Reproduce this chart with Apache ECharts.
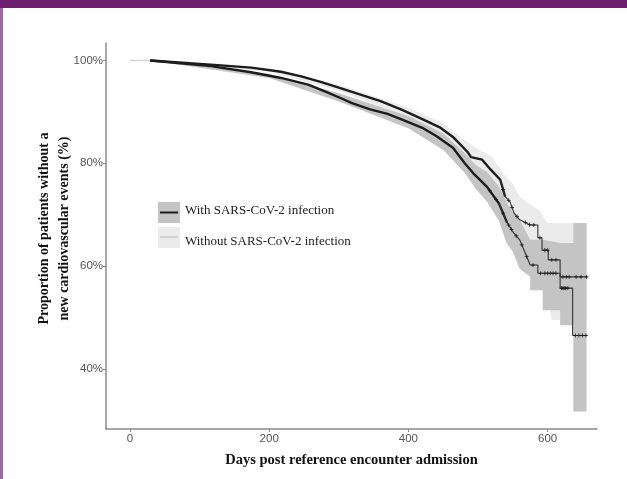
<!doctype html>
<html lang="en">
<head>
    <meta charset="utf-8">
    <title>Kaplan-Meier</title>
    <style>
        html, body { margin: 0; padding: 0; background: #fff; }
        #chart { width: 627px; height: 479px; }
    </style>
</head>
<body>
    <div id="chart"></div>
    <script src="https://cdn.jsdelivr.net/npm/echarts@6/dist/echarts.min.js"></script>
    <script>
        // Without SARS-CoV-2 infection (upper curve): days, survival %
        var withoutDays = [29, 116, 174, 217, 246, 275, 300, 330, 360, 391, 420, 445, 465, 485, 490, 506, 518, 532, 539, 546, 552, 560, 575, 586, 586, 592, 592, 601, 601, 618, 618, 657];
        var withoutSurv = [100, 99.2, 98.6, 97.8, 96.9, 95.8, 94.7, 93.4, 92.1, 90.4, 88.6, 87.0, 85.0, 82.2, 81.2, 80.7, 78.8, 76.8, 73.5, 72.5, 70.3, 69.0, 68.0, 68.0, 65.5, 65.5, 63.1, 63.1, 61.2, 61.2, 57.9, 57.9];
        // With SARS-CoV-2 infection (lower curve)
        var withDays = [29, 116, 174, 217, 256, 280, 304, 319, 345, 370, 391, 420, 440, 464, 481, 493, 513, 530, 542, 551, 560, 568, 575, 586, 586, 618, 618, 636, 636, 657];
        var withSurv = [100, 98.9, 97.7, 96.6, 95.3, 94.0, 92.6, 91.7, 90.5, 89.6, 88.5, 86.9, 85.3, 83.0, 80.0, 78.1, 75.4, 72.2, 68.4, 66.5, 65.1, 62.5, 60.2, 60.2, 58.6, 58.6, 55.7, 55.7, 46.5, 46.5];

        // confidence bands
        var withoutBandDays = [29, 200, 300, 400, 450, 480, 500, 520, 536, 550, 560, 575, 588, 600, 606, 656];
        var withoutBandLo = [100, 97.8, 94.1, 89.0, 85.4, 81.5, 79.2, 77.0, 71.8, 68.0, 65.5, 62.0, 59.0, 53.5, 49.5, 49.5];
        var withoutBandHi = [100, 98.4, 95.3, 90.8, 87.8, 84.6, 82.8, 81.2, 78.0, 76.0, 73.5, 72.0, 70.9, 68.4, 68.4, 68.4];

        var withBandDays = [29, 200, 300, 400, 450, 480, 497, 513, 530, 541, 550, 560, 575, 575, 593, 593, 618, 618, 637, 637, 656];
        var withBandLo = [100, 96.6, 92.0, 86.8, 82.6, 78.3, 75.0, 72.5, 68.8, 64.5, 62.8, 59.5, 57.9, 55.3, 55.3, 51.4, 51.4, 48.5, 48.5, 31.7, 31.7];
        var withBandHi = [100, 97.4, 93.6, 89.2, 85.8, 82.1, 79.6, 78.3, 75.5, 72.4, 70.5, 69.0, 65.1, 65.1, 65.1, 65.1, 64.5, 64.5, 64.5, 68.4, 68.4];

        // censoring marks (days)
        var withoutCensor = [536, 544, 549, 556, 568, 574, 580, 589, 596, 600, 606, 612, 622, 627, 631, 641, 648, 656];
        var withCensor = [517, 526, 536, 544, 548, 555, 563, 570, 579, 590, 596, 600, 604, 608, 612, 620, 622, 624, 626, 629, 640, 645, 650, 655];

        var leadDays = [0, 29];
        var xTicks = [0, 200, 400, 600];
        var yTicks = [40, 60, 80, 100];
        var tailFrom = 535; // curves are drawn thin after this day

        function pairs(xs, ys) {
            return xs.map(function (x, i) { return [x, ys[i]]; });
        }
        function split(xs, ys, early) {
            var out = [];
            for (var i = 0; i < xs.length; i++) {
                if (early ? xs[i] <= tailFrom || (i > 0 && xs[i - 1] <= tailFrom) : (xs[i] >= tailFrom || (i + 1 < xs.length && xs[i + 1] >= tailFrom))) {
                    out.push([xs[i], ys[i]]);
                }
            }
            return out;
        }
        function survAt(xs, ys, d) {
            for (var i = xs.length - 1; i >= 0; i--) {
                if (xs[i] <= d) {
                    if (i === xs.length - 1 || xs[i + 1] === xs[i]) return ys[i];
                    return ys[i] + (ys[i + 1] - ys[i]) * (d - xs[i]) / (xs[i + 1] - xs[i]);
                }
            }
            return ys[0];
        }
        function censorPts(xs, ys, cs) {
            return cs.map(function (d) { return [d, survAt(xs, ys, d)]; });
        }

        var chart = echarts.init(document.getElementById('chart'));
        var ink = '#1c1c1c';
        var plus = 'path://M2,0L2,4M0,2L4,2';

        // band drawn as one polygon: upper edge left->right, lower edge back
        function band(name, xs, lo, hi, color) {
            var data = xs.map(function (x, i) { return [x, lo[i], hi[i]]; });
            return {
                name: name, type: 'custom', silent: true, z: 1,
                encode: { x: 0, y: [1, 2] },
                data: data,
                renderItem: function (params, api) {
                    if (params.dataIndex !== 0) return null;
                    var pts = [];
                    for (var i = 0; i < data.length; i++) pts.push(api.coord([data[i][0], data[i][2]]));
                    for (var j = data.length - 1; j >= 0; j--) pts.push(api.coord([data[j][0], data[j][1]]));
                    return { type: 'polygon', shape: { points: pts }, style: { fill: color } };
                }
            };
        }

        function curve(name, xs, ys) {
            return [{
                name: name, type: 'line', data: split(xs, ys, true),
                symbol: 'none', z: 3, lineStyle: { color: ink, width: 2.4 }
            }, {
                name: name, type: 'line', data: split(xs, ys, false),
                symbol: 'none', z: 3, lineStyle: { color: '#333', width: 1.1 }
            }];
        }

        var series = [
            band('Without band', withoutBandDays, withoutBandLo, withoutBandHi, '#ebebeb'),
            band('With band', withBandDays, withBandLo, withBandHi, '#c4c4c4'),
            {
                type: 'line', data: pairs(leadDays, [100, 100]), symbol: 'none', z: 2,
                lineStyle: { color: '#d4d4d4', width: 1.5 }
            }
        ].concat(
            curve('Without SARS-CoV-2 infection', withoutDays, withoutSurv),
            curve('With SARS-CoV-2 infection', withDays, withSurv),
            [{
                type: 'scatter', data: censorPts(withoutDays, withoutSurv, withoutCensor), z: 4,
                symbol: plus, symbolSize: 4,
                itemStyle: { color: 'none', borderColor: ink, borderWidth: 1 }
            }, {
                type: 'scatter', data: censorPts(withDays, withSurv, withCensor), z: 4,
                symbol: plus, symbolSize: 4,
                itemStyle: { color: 'none', borderColor: ink, borderWidth: 1 }
            }]
        );

        var serif = '"Liberation Serif", "Times New Roman", serif';
        var sans = '"Liberation Sans", Arial, sans-serif';

        chart.setOption({
            animation: false,
            backgroundColor: '#fff',
            grid: { left: 106, right: 30, top: 43, bottom: 50 },
            xAxis: {
                type: 'value', min: -34.5, max: 671,
                name: 'Days post reference encounter admission',
                nameLocation: 'middle', nameGap: 24,
                nameTextStyle: { fontFamily: serif, fontWeight: 'bold', fontSize: 14.5, color: '#111' },
                axisLine: { onZero: false, lineStyle: { color: '#8a8a8a', width: 1.5 } },
                axisTick: { show: true, length: 3, customValues: xTicks, lineStyle: { color: '#8a8a8a' } },
                axisLabel: { customValues: xTicks, color: '#555', fontFamily: sans, fontSize: 11.5, margin: 4 },
                splitLine: { show: false }
            },
            yAxis: {
                type: 'value', min: 28.3, max: 103.4,
                axisLine: { show: true, onZero: false, lineStyle: { color: '#8a8a8a', width: 1.5 } },
                axisTick: { show: true, length: 3, customValues: yTicks, lineStyle: { color: '#8a8a8a' } },
                axisLabel: {
                    customValues: yTicks, color: '#555', fontFamily: sans, fontSize: 11.5, margin: 3,
                    formatter: function (v) { return v + '%'; }
                },
                splitLine: { show: false }
            },
            series: series,
            graphic: [
                { type: 'rect', shape: { x: 0, y: 0, width: 627, height: 8 }, style: { fill: '#6b1f6e' }, z: 10 },
                { type: 'rect', shape: { x: 0, y: 8, width: 3, height: 471 }, style: { fill: '#a265ac' }, z: 10 },
                {
                    type: 'text', x: 54, y: 228.5, rotation: Math.PI / 2, z: 10,
                    style: {
                        text: 'Proportion of patients without a\nnew cardiovascular events (%)',
                        font: 'bold 14px ' + serif, fill: '#111', align: 'center', verticalAlign: 'middle', lineHeight: 20
                    }
                },
                { type: 'rect', shape: { x: 158, y: 202, width: 22, height: 21 }, style: { fill: '#c4c4c4' }, z: 10 },
                { type: 'line', shape: { x1: 160, y1: 212.5, x2: 178, y2: 212.5 }, style: { stroke: ink, lineWidth: 2 }, z: 11 },
                { type: 'rect', shape: { x: 158, y: 227, width: 22, height: 21 }, style: { fill: '#ebebeb' }, z: 10 },
                { type: 'line', shape: { x1: 160, y1: 237, x2: 178, y2: 237 }, style: { stroke: '#c8c8c8', lineWidth: 1.5 }, z: 11 },
                {
                    type: 'text', x: 185, y: 210.5, z: 10,
                    style: { text: 'With SARS-CoV-2 infection', font: '13px ' + serif, fill: '#222', verticalAlign: 'middle' }
                },
                {
                    type: 'text', x: 185, y: 241.5, z: 10,
                    style: { text: 'Without SARS-CoV-2 infection', font: '13px ' + serif, fill: '#222', verticalAlign: 'middle' }
                }
            ]
        });
    </script>
</body>
</html>
